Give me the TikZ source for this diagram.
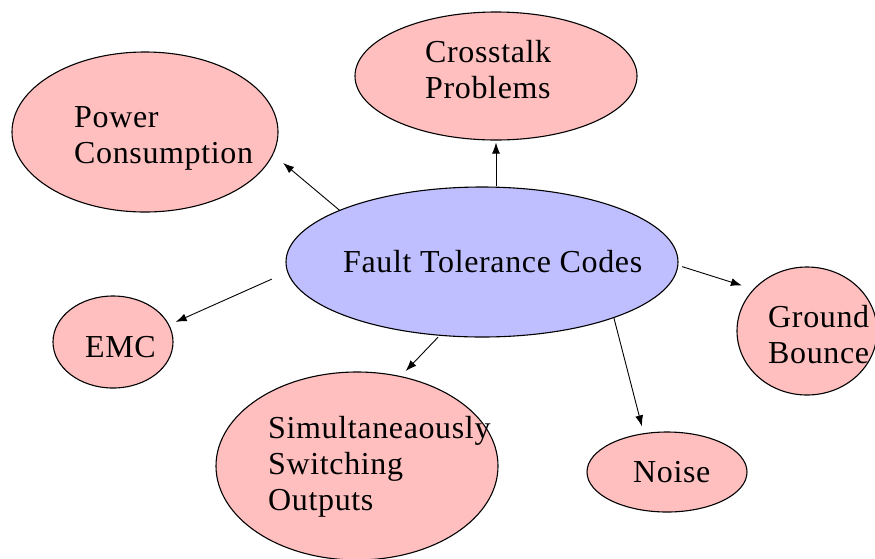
\documentclass[tikz,border=0pt]{standalone}
\usepackage{fontspec}
\setmainfont{Liberation Serif}[LetterSpace=2]
\usetikzlibrary{shapes.geometric,arrows.meta}
\definecolor{pinkfill}{HTML}{FFBFBF}
\definecolor{bluefill}{HTML}{BFBFFF}
\begin{document}
\begin{tikzpicture}[x=1pt,y=-1pt,
  bubble/.style={ellipse,draw=black,line width=1.1pt,fill=pinkfill,inner sep=0pt},
  hub/.style={ellipse,draw=black,line width=1.1pt,fill=bluefill,inner sep=0pt},
  lbl/.style={anchor=base west,inner sep=0pt,align=left,font=\fontsize{32}{36}\selectfont},
  link/.style={-{Latex[length=11pt,width=8pt]},line width=0.9pt}]
\useasboundingbox (0,0) rectangle (875,558);
% ellipses
\node[hub,minimum width=392pt,minimum height=150pt] (fault) at (482,262) {};
\node[bubble,minimum width=282pt,minimum height=128pt] (cross) at (496,76) {};
\node[bubble,minimum width=266pt,minimum height=160pt] (power) at (145,132) {};
\node[bubble,minimum width=120pt,minimum height=92pt] (emc) at (113,342) {};
\node[bubble,minimum width=282pt,minimum height=188pt] (simul) at (357,466) {};
\node[bubble,minimum width=160pt,minimum height=80pt] (noise) at (667,472) {};
\node[bubble,minimum width=140pt,minimum height=128pt] (ground) at (807,331) {};
% labels (anchor = baseline of the last line)
\node[lbl] (tfault) at (343,272) {Fault Tolerance Codes};
\node[lbl] (tcross) at (425,98) {Crosstalk\\Problems};
\node[lbl] (tpower) at (74,163) {Power\\Consumption};
\node[lbl] (temc) at (85,357) {EMC};
\node[lbl] (tsimul) at (268,510) {Simultaneaously\\Switching\\Outputs};
\node[lbl] (tnoise) at (633,482) {Noise};
\node[lbl] (tground) at (768,363) {Ground\\Bounce};
% connectors
\draw[link,shorten >=13pt] (fault.160) -- (power.-10);
\draw[link,shorten >=2pt] (cross.south |- fault.north) -- (cross.south);
\draw[link,shorten <=4pt,shorten >=12pt] (fault.-1.5) -- (ground.142);
\draw[link,shorten <=17pt,shorten >=7pt] (fault.-177) -- (emc.17);
\draw[link,shorten <=2pt,shorten >=7pt] (fault.-120) -- (simul.64);
\draw[link,shorten >=7pt] (fault.-23) -- (noise.121);
\end{tikzpicture}
\end{document}
